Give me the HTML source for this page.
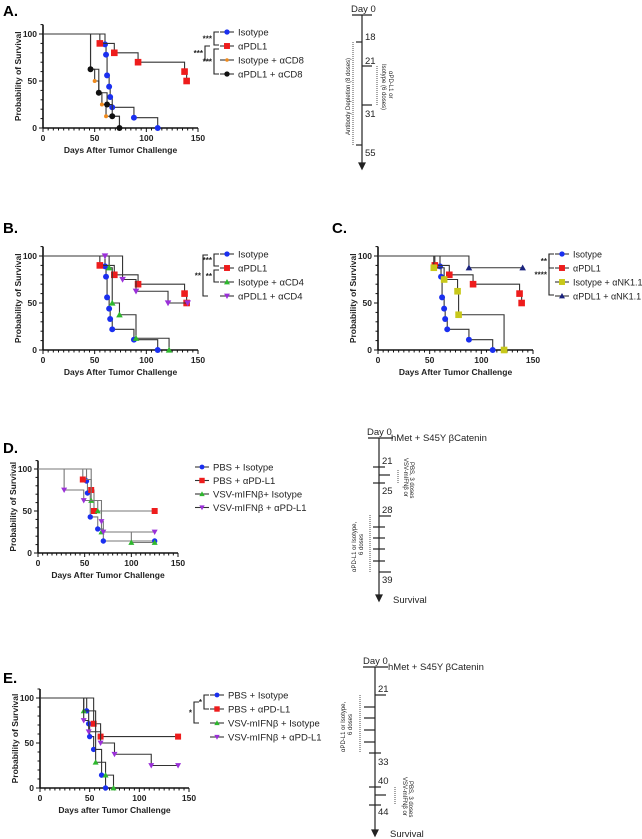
<!DOCTYPE html>
<html><head><meta charset="utf-8">
<style>
html,body{margin:0;padding:0;background:#fff;}
svg{display:block;font-family:"Liberation Sans",Arial,sans-serif;}
.ttl{font-family:"Liberation Sans",sans-serif;font-weight:bold;font-size:15px}
.tl{font-family:"Liberation Sans",sans-serif;font-size:9.5px;fill:#222}
</style></head><body>
<svg id="fig" width="642" height="839" viewBox="0 0 642 839" xmlns="http://www.w3.org/2000/svg">
<text class="ttl" x="3" y="16">A.</text>
<text class="ttl" x="3" y="233">B.</text>
<text class="ttl" x="332" y="233">C.</text>
<text class="ttl" x="3" y="453">D.</text>
<text class="ttl" x="3" y="683">E.</text>

<g stroke="#222" stroke-width="1.2" fill="none">
<line x1="352" y1="15" x2="372" y2="15"/><line x1="362" y1="15" x2="362" y2="165"/>
<path d="M359,163 L362,169 L365,163 Z" fill="#222"/>
<line x1="356" y1="42" x2="362" y2="42"/><line x1="362" y1="66" x2="372" y2="66"/>
<line x1="362" y1="105" x2="372" y2="105"/><line x1="356" y1="145" x2="362" y2="145"/>
<line x1="353" y1="42" x2="353" y2="145" stroke-dasharray="1,1" stroke-width="0.8"/>
<line x1="377" y1="66" x2="377" y2="105" stroke-dasharray="1,1" stroke-width="0.8"/>
</g>
<text class="tl" x="351" y="12">Day 0</text>
<text class="tl" x="365" y="40">18</text><text class="tl" x="365" y="64">21</text>
<text class="tl" x="365" y="117">31</text><text class="tl" x="365" y="156">55</text>
<text class="tl" style="font-size:6px" transform="translate(350,135) rotate(-90)">Antibody Depletion (8 doses)</text>
<text class="tl" style="font-size:6px" transform="translate(382,64) rotate(90)">Isotype (6 doses)</text>
<text class="tl" style="font-size:6px" transform="translate(389,71) rotate(90)">αPD-L1 or</text>

<g stroke="#222" stroke-width="1.2" fill="none">
<line x1="368" y1="438" x2="393" y2="438"/><line x1="379" y1="438" x2="379" y2="597"/>
<path d="M376,595 L379,601 L382,595 Z" fill="#222"/>
<line x1="373" y1="467" x2="385" y2="467"/><line x1="379" y1="475" x2="390" y2="475"/>
<line x1="373" y1="483" x2="385" y2="483"/><line x1="379" y1="516" x2="391" y2="516"/>
<line x1="373" y1="527" x2="385" y2="527"/><line x1="373" y1="538" x2="385" y2="538"/>
<line x1="373" y1="549" x2="385" y2="549"/><line x1="373" y1="561" x2="385" y2="561"/>
<line x1="379" y1="572" x2="391" y2="572"/>
<line x1="398" y1="470" x2="398" y2="483" stroke-dasharray="1,1" stroke-width="0.8"/>
<line x1="370" y1="515" x2="370" y2="573" stroke-dasharray="1,1" stroke-width="0.8"/>
</g>
<text class="tl" x="367" y="435">Day 0</text>
<text class="tl" x="391" y="441">hMet + S45Y βCatenin</text>
<text class="tl" x="382" y="464">21</text><text class="tl" x="382" y="494">25</text>
<text class="tl" x="382" y="513">28</text><text class="tl" x="382" y="583">39</text>
<text class="tl" x="393" y="603">Survival</text>
<text class="tl" style="font-size:6px" transform="translate(404,458) rotate(90)">VSV-mIFNβ or</text>
<text class="tl" style="font-size:6px" transform="translate(410,462) rotate(90)">PBS, 3 doses</text>
<text class="tl" style="font-size:6px" transform="translate(356,572) rotate(-90)">αPD-L1 or Isotype,</text>
<text class="tl" style="font-size:6px" transform="translate(363,555) rotate(-90)">6 doses</text>

<g stroke="#222" stroke-width="1.2" fill="none">
<line x1="363" y1="667" x2="388" y2="667"/><line x1="375" y1="667" x2="375" y2="832"/>
<path d="M372,830 L375,836 L378,830 Z" fill="#222"/>
<line x1="375" y1="695" x2="386" y2="695"/>
<line x1="364" y1="707" x2="375" y2="707"/><line x1="364" y1="718" x2="375" y2="718"/>
<line x1="364" y1="730" x2="375" y2="730"/><line x1="364" y1="742" x2="375" y2="742"/>
<line x1="369" y1="753" x2="381" y2="753"/><line x1="369" y1="787" x2="381" y2="787"/>
<line x1="375" y1="795" x2="386" y2="795"/><line x1="369" y1="805" x2="381" y2="805"/>
<line x1="360" y1="695" x2="360" y2="753" stroke-dasharray="1,1" stroke-width="0.8"/>
<line x1="395" y1="787" x2="395" y2="805" stroke-dasharray="1,1" stroke-width="0.8"/>
</g>
<text class="tl" x="363" y="664">Day 0</text>
<text class="tl" x="388" y="670">hMet + S45Y βCatenin</text>
<text class="tl" x="378" y="692">21</text><text class="tl" x="378" y="765">33</text>
<text class="tl" x="378" y="784">40</text><text class="tl" x="378" y="815">44</text>
<text class="tl" x="390" y="837">Survival</text>
<text class="tl" style="font-size:6px" transform="translate(345,752) rotate(-90)">αPD-L1 or Isotype,</text>
<text class="tl" style="font-size:6px" transform="translate(352,735) rotate(-90)">6 doses</text>
<text class="tl" style="font-size:6px" transform="translate(403,777) rotate(90)">VSV-mIFNβ or</text>
<text class="tl" style="font-size:6px" transform="translate(409,781) rotate(90)">PBS, 3 doses</text>
</svg>
<script>
const isoX = [0,60,61,62,64,65,67,88,111];
const isoY = [100,89,78,56,44,33,22,11,0];
const pdl1X = [0,55,69,92,137,139];
const pdl1Y = [100,90,80,70,60,50];
const isoCd8X = [0,46,50,54,57,61,74];
const isoCd8Y = [100,62.5,50,37.5,25,12.5,0];
const pdl1Cd8X = [0,46,54,62,67,74];
const pdl1Cd8Y = [100,62.5,37.5,25,12.5,0];
const isoCd4X = [0,64,67,74,90,122];
const isoCd4Y = [100,87.5,50,37.5,12.5,0];
const pdl1Cd4X = [0,60,77,90,121,140];
const pdl1Cd4Y = [100,100,75,62.5,50,50];
const isoNkX = [0,54,64,77,78,122];
const isoNkY = [100,87.5,75,62.5,37.5,0];
const pdl1NkX = [0,88,140];
const pdl1NkY = [100,87.5,87.5];
const dPbsIsoX = [0,52,53,56,64,70,125];
const dPbsIsoY = [100,85.7,71.4,42.9,28.6,14.3,14.3];
const dPbsPdl1X = [0,48,57,60,125];
const dPbsPdl1Y = [100,87.5,75,50,50];
const dVsvIsoX = [0,57,64,68,100,125];
const dVsvIsoY = [100,62.5,50,25,12.5,12.5];
const dVsvPdl1X = [0,28,49,68,70,125];
const dVsvPdl1Y = [100,75,62.5,37.5,25,25];
const ePbsIsoX = [0,47,49,50,54,62,66];
const ePbsIsoY = [100,85.7,71.4,57.1,42.9,14.3,0];
const ePbsPdl1X = [0,54,61,139];
const ePbsPdl1Y = [100,71.4,57.1,57.1];
const eVsvIsoX = [0,44,56,66,74];
const eVsvIsoY = [100,85.7,28.6,14.3,0];
const eVsvPdl1X = [0,44,49,61,75,112,139];
const eVsvPdl1Y = [100,75,62.5,50,37.5,25,25];
const xTicks = [0,50,100,150];
const yTicks = [0,50,100];

const NS='http://www.w3.org/2000/svg';
const svg=document.getElementById('fig');
function mk(tag,attrs,parent){const e=document.createElementNS(NS,tag);for(const k in attrs)e.setAttribute(k,attrs[k]);(parent||svg).appendChild(e);return e;}

function marker(g,shape,color,cx,cy,s){
  let m;
  if(shape==='circle') m=mk('circle',{cx:cx,cy:cy,r:s*0.9,fill:color},g);
  else if(shape==='square') m=mk('rect',{x:cx-s,y:cy-s,width:2*s,height:2*s,fill:color},g);
  else if(shape==='tri') m=mk('path',{d:`M${cx},${cy-s} L${cx+s},${cy+s*0.8} L${cx-s},${cy+s*0.8} Z`,fill:color},g);
  else if(shape==='itri') m=mk('path',{d:`M${cx},${cy+s} L${cx+s},${cy-s*0.8} L${cx-s},${cy-s*0.8} Z`,fill:color},g);
  else if(shape==='plus') m=mk('circle',{cx:cx,cy:cy,r:s*0.6,fill:color},g);
  return m;
}

function chart(o){
  const g=mk('g',{});
  
  
  const sx=v=>o.x0+(o.x1-o.x0)*v/150;
  const sy=v=>o.y0-(o.y0-o.y100)*v/100;
  const top=sy(110);
  mk('line',{x1:o.x0,y1:top,x2:o.x0,y2:o.y0,stroke:'#111','stroke-width':1.6},g);
  mk('line',{x1:o.x0,y1:o.y0,x2:o.x1,y2:o.y0,stroke:'#111','stroke-width':1.6},g);
  for(let v=0;v<=150;v+=5){const x=sx(v);mk('line',{x1:x,y1:o.y0,x2:x,y2:o.y0+(v%50===0?4:2.5),stroke:'#111','stroke-width':1},g);}
  for(let v=0;v<=110;v+=10){const y=sy(v);mk('line',{x1:o.x0-(v%50===0?4:2.5),y1:y,x2:o.x0,y2:y,stroke:'#111','stroke-width':1},g);}
  xTicks.forEach(v=>{const t=mk('text',{x:sx(v),y:o.y0+13,'text-anchor':'middle','font-size':8.5,'font-weight':'bold',fill:'#222'},g);t.textContent=v;
    
    });
  yTicks.forEach(v=>{const t=mk('text',{x:o.x0-6,y:sy(v)+3,'text-anchor':'end','font-size':8.5,'font-weight':'bold',fill:'#222'},g);t.textContent=v;
    
    });
  const xt=mk('text',{x:(o.x0+o.x1)/2,y:o.y0+25,'text-anchor':'middle','font-size':8.5,'font-weight':'bold',fill:'#222'},g);
  xt.textContent=o.xlabel;
  
  
  const yt=mk('text',{transform:`translate(${o.x0-22},${(o.y0+top)/2}) rotate(-90)`,'text-anchor':'middle','font-size':8.5,'font-weight':'bold',fill:'#222'},g);
  yt.textContent='Probability of Survival';
  
  
  o.series.forEach((s,i)=>{
    const sg=mk('g',{},g);
    
    
    let d=`M${sx(s.xs[0])},${sy(s.ys[0])}`;
    for(let k=1;k<s.xs.length;k++){d+=` H${sx(s.xs[k])} V${sy(s.ys[k])}`;}
    mk('path',{d:d,fill:'none',stroke:o.lineColor||'#333','stroke-width':1.1},sg);
    for(let k=1;k<s.xs.length;k++){
      const m=marker(sg,s.shape,s.color,sx(s.xs[k]),sy(s.ys[k]),o.ms);
      
      
    }
    const ly=o.ly+i*o.lstep;
    const le=mk('g',{},g);
    
    
    mk('line',{x1:o.lx-7,y1:ly,x2:o.lx+7,y2:ly,stroke:'#333','stroke-width':1.1},le);
    marker(le,s.shape,s.color,o.lx,ly,o.ms*0.9);
    const t=mk('text',{x:o.lx+11,y:ly+3.5,'font-size':o.lfs||9.5,fill:'#222'},le);
    t.textContent=s.label;
  });
  (o.brackets||[]).forEach(b=>{
    const bg=mk('g',{},g);
    
    
    mk('path',{d:`M${b.x+5},${b.y1} H${b.x} V${b.y2} H${b.x+5}`,fill:'none',stroke:'#222','stroke-width':1.1},bg);
    const t=mk('text',{x:b.x-2,y:(b.y1+b.y2)/2+3,'text-anchor':'end','font-size':8,'font-weight':'bold',fill:'#222'},bg);
    t.textContent=b.t;
  });
}

const L='Days After Tumor Challenge';
const sIso={key:'isotype',label:'Isotype',xs:isoX,ys:isoY,shape:'circle',color:'#1a2ff0'};
const sPd={key:'apdl1',label:'αPDL1',xs:pdl1X,ys:pdl1Y,shape:'square',color:'#ee1c1c'};
chart({name:'chart-a',x0:43,x1:198,y0:128,y100:34,ms:3.3,xlabel:L,lx:227,ly:32,lstep:14,
  series:[sIso,sPd,
   {key:'isotype-acd8',label:'Isotype + αCD8',xs:isoCd8X,ys:isoCd8Y,shape:'plus',color:'#f08a1c'},
   {key:'apdl1-acd8',label:'αPDL1 + αCD8',xs:pdl1Cd8X,ys:pdl1Cd8Y,shape:'circle',color:'#111'}],
  brackets:[{x:214,y1:32,y2:45,t:'***'},{x:214,y1:49,y2:74,t:'***'},{x:205,y1:46,y2:60,t:'***'}]});
chart({name:'chart-b',x0:43,x1:198,y0:350,y100:256,ms:3.3,xlabel:L,lx:227,ly:254,lstep:14,
  series:[sIso,sPd,
   {key:'isotype-acd4',label:'Isotype + αCD4',xs:isoCd4X,ys:isoCd4Y,shape:'tri',color:'#2eb82e'},
   {key:'apdl1-acd4',label:'αPDL1 + αCD4',xs:pdl1Cd4X,ys:pdl1Cd4Y,shape:'itri',color:'#9b30d9'}],
  brackets:[{x:214,y1:254,y2:266,t:'***'},{x:214,y1:270,y2:282,t:'**'},{x:203,y1:255,y2:296,t:'**'}]});
chart({name:'chart-c',x0:378,x1:533,y0:350,y100:256,ms:3.3,xlabel:L,lx:562,ly:254,lstep:14,lfs:9,
  series:[sIso,sPd,
   {key:'isotype-ank11',label:'Isotype + αNK1.1',xs:isoNkX,ys:isoNkY,shape:'square',color:'#c8c81a'},
   {key:'apdl1-ank11',label:'αPDL1 + αNK1.1',xs:pdl1NkX,ys:pdl1NkY,shape:'tri',color:'#1a237e'}],
  brackets:[{x:549,y1:254,y2:268,t:'**'},{x:549,y1:254,y2:295,t:'****'}]});
chart({name:'chart-d',x0:38,x1:178,y0:553,y100:469,ms:3,lineColor:'#777',xlabel:L,lx:202,ly:467,lstep:13.5,
  series:[
   {key:'pbs-isotype',label:'PBS + Isotype',xs:dPbsIsoX,ys:dPbsIsoY,shape:'circle',color:'#1a2ff0'},
   {key:'pbs-apdl1',label:'PBS + αPD-L1',xs:dPbsPdl1X,ys:dPbsPdl1Y,shape:'square',color:'#ee1c1c'},
   {key:'vsv-isotype',label:'VSV-mIFNβ+ Isotype',xs:dVsvIsoX,ys:dVsvIsoY,shape:'tri',color:'#2eb82e'},
   {key:'vsv-apdl1',label:'VSV-mIFNβ + αPD-L1',xs:dVsvPdl1X,ys:dVsvPdl1Y,shape:'itri',color:'#9b30d9'}]});
chart({name:'chart-e',x0:40,x1:189,y0:788,y100:698,ms:3,xlabel:'Days after Tumor Challenge',lx:217,ly:695,lstep:14,
  series:[
   {key:'pbs-isotype',label:'PBS + Isotype',xs:ePbsIsoX,ys:ePbsIsoY,shape:'circle',color:'#1a2ff0'},
   {key:'pbs-apdl1',label:'PBS + αPD-L1',xs:ePbsPdl1X,ys:ePbsPdl1Y,shape:'square',color:'#ee1c1c'},
   {key:'vsv-isotype',label:'VSV-mIFNβ + Isotype',xs:eVsvIsoX,ys:eVsvIsoY,shape:'tri',color:'#2eb82e'},
   {key:'vsv-apdl1',label:'VSV-mIFNβ + αPD-L1',xs:eVsvPdl1X,ys:eVsvPdl1Y,shape:'itri',color:'#9b30d9'}],
  brackets:[{x:204,y1:695,y2:709,t:'*'},{x:194,y1:702,y2:723,t:'*'}]});
</script>
</body></html>
